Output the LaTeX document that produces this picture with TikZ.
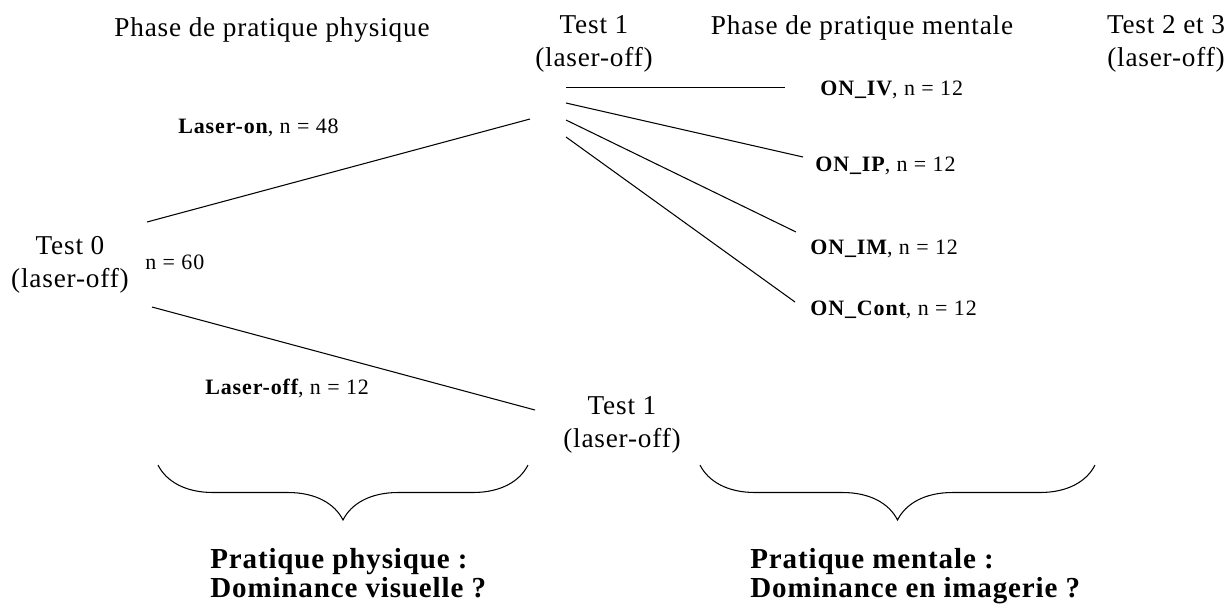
\documentclass[tikz,border=0pt]{standalone}
\usepackage{fontspec}
\setmainfont{Liberation Serif}[LetterSpace=3]
\newfontfamily\grpfont{Liberation Serif}[LetterSpace=4]
\newfontfamily\questfont{Liberation Serif}[LetterSpace=3]
\usetikzlibrary{decorations.pathreplacing}

\begin{document}
\begin{tikzpicture}[x=0.02cm, y=-0.02cm,
    head/.style={font=\fontsize{15.5}{18.7}\selectfont, align=center, inner sep=0pt},
    grp/.style={font=\grpfont\fontsize{12.5}{14}\selectfont, inner sep=0pt, anchor=base west},
    quest/.style={font=\questfont\bfseries\fontsize{16.5}{16.5}\selectfont, align=left, inner sep=0pt, anchor=north west},
    link/.style={line width=0.6pt},
    bracket/.style={decorate, decoration={brace, amplitude=1.1cm}, line width=0.6pt}
]
    \useasboundingbox (0,0) rectangle (1229,603);

    % Phases
    \node[head, anchor=base] (physphase) at (272,36) {Phase de pratique physique};
    \node[head, anchor=base] (mentphase) at (862,34) {Phase de pratique mentale};

    % Tests
    \node[head] (test0) at (70,265) {Test 0\\(laser-off)};
    \node[head] (test1on) at (594,44) {Test 1\\(laser-off)};
    \node[head] (test1off) at (622,425) {Test 1\\(laser-off)};
    \node[head] (test23) at (1166,44) {Test 2 et 3\\(laser-off)};

    % Groups
    \node[grp] (n60) at (145,269) {n = 60};
    \node[grp] (laseron) at (178,133) {\textbf{Laser-on}, n = 48};
    \node[grp] (laseroff) at (205,394) {\textbf{Laser-off}, n = 12};
    \node[grp] (oniv) at (820,95) {\textbf{ON\_IV}, n = 12};
    \node[grp] (onip) at (815,171) {\textbf{ON\_IP}, n = 12};
    \node[grp] (onim) at (810,254) {\textbf{ON\_IM}, n = 12};
    \node[grp] (oncont) at (810,315) {\textbf{ON\_Cont}, n = 12};

    % Line ends
    \coordinate (t0up) at (147,222);
    \coordinate (t0down) at (152,307);
    \coordinate (t1in) at (530,119);
    \coordinate (t1offin) at (535,410);
    \coordinate (fan1) at (566,87.5);
    \coordinate (fan2) at (566,103);
    \coordinate (fan3) at (566,120);
    \coordinate (fan4) at (566,137);
    \coordinate (ivend) at (785,87.5);
    \coordinate (ipend) at (803,157);
    \coordinate (imend) at (796,232);
    \coordinate (contend) at (795,302);

    \draw[link] (t0up) -- (t1in);
    \draw[link] (t0down) -- (t1offin);
    \draw[link] (fan1) -- (ivend);
    \draw[link] (fan2) -- (ipend);
    \draw[link] (fan3) -- (imend);
    \draw[link] (fan4) -- (contend);

    % Braces
    \coordinate (physleft) at (158,465);
    \coordinate (physright) at (528,465);
    \coordinate (mentleft) at (700,465);
    \coordinate (mentright) at (1095,465);
    \draw[bracket] (physright) -- (physleft);
    \draw[bracket] (mentright) -- (mentleft);

    % Questions
    \node[quest] (physq) at (210,548) {Pratique physique :\\Dominance visuelle ?};
    \node[quest] (mentq) at (750,548) {Pratique mentale :\\Dominance en imagerie ?};
\end{tikzpicture}
\end{document}
